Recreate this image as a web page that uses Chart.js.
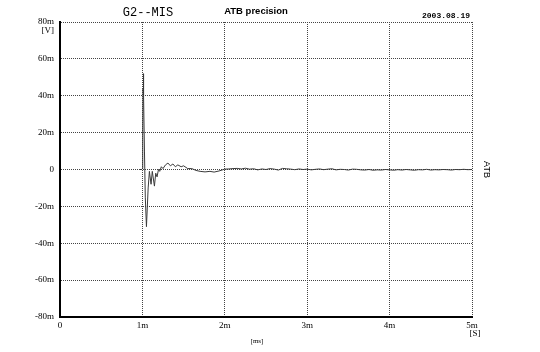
<!DOCTYPE html>
<html>
<head>
<meta charset="utf-8">
<script src="https://cdn.jsdelivr.net/npm/chart.js@4.4.0/dist/chart.umd.min.js"></script>
<style>
html,body{margin:0;padding:0;background:#fff;}
#wrap{width:540px;height:352px;position:relative;}
</style>
</head>
<body>
<div id="wrap"><canvas id="c" width="540" height="352"></canvas></div>
<script>
// time in ms
const timeMs = [0.97,0.99,1.00,1.004,1.008,1.012,1.016,1.025,1.035,1.049,1.07,1.085,1.105,1.12,1.146,1.162,1.178,1.195,1.21,1.23,1.25,1.28,1.31,1.34,1.37,1.40,1.43,1.47,1.50,1.55,1.60,1.65,1.70,1.76,1.82,1.87,1.93,2.00,
2.05,2.10,2.15,2.20,2.25,2.30,2.35,2.40,2.45,2.50,2.55,2.60,2.65,2.70,2.75,2.80,2.85,2.90,2.95,3.00,3.05,3.10,3.15,3.20,3.25,3.30,3.35,3.40,3.45,3.50,3.55,3.60,3.65,3.70,3.75,3.80,3.85,3.90,3.95,4.00,4.05,4.10,4.15,4.20,4.25,4.30,4.35,4.40,4.45,4.50,4.55,4.60,4.65,4.70,4.75,4.80,4.85,4.90,4.95,5.00];
// voltage in mV
const voltMv = [0,0,0.5,20,44,52,40,10,-15,-31,-10,-1,-8,-1,-9,-2,-4,0,-1,1.5,0.5,2.5,3.5,2,3,1.5,2.5,1.5,2,0.5,0.5,-0.5,-1,-1.3,-1,-1.4,-0.8,0.2,
0.3,0.5,0.6,0.3,0.7,0.2,0.4,-0.2,0.3,0,0.5,0.2,-0.3,0.6,0.4,0.2,-0.1,0.3,0,0.2,-0.2,0.1,0.3,-0.1,0.2,0.4,-0.2,0.1,0,-0.3,0.2,0.1,-0.2,-0.3,0,-0.4,-0.2,-0.3,0,-0.2,-0.4,-0.1,-0.3,0,-0.2,-0.4,-0.1,-0.2,0.1,-0.3,-0.1,-0.2,0,-0.1,-0.3,0,-0.1,0.1,-0.1,0];
const yTicks = [-80,-60,-40,-20,0,20,40,60,80];
const xTicks = [0,1,2,3,4,5];

const serif = '"Liberation Serif", "DejaVu Serif", serif';

const textPlugin = {
  id:'texts',
  afterDraw(chart){
    const ctx = chart.ctx, a = chart.chartArea;
    ctx.save();
    ctx.fillStyle = '#000';
    ctx.font = '12px "Liberation Mono", monospace';
    ctx.textAlign = 'center'; ctx.textBaseline = 'middle';
    ctx.fillText('G2--MIS', 148, 13);
    ctx.font = 'bold 9.5px "Liberation Sans", Arial, sans-serif';
    ctx.fillText('ATB precision', 256, 11);
    ctx.font = 'bold 8px "Liberation Mono", monospace';
    ctx.textAlign = 'right';
    ctx.fillText('2003.08.19', a.right - 2, 16);
    ctx.font = '9px ' + serif;
    ctx.textAlign = 'right';
    ctx.fillText('[V]', a.left - 6, a.top + 9);
    ctx.textAlign = 'center';
    ctx.fillText('[S]', a.right + 3, a.bottom + 17);
    ctx.font = '7px ' + serif;
    ctx.fillText('[ms]', 257, a.bottom + 24);
    ctx.font = '9px "Liberation Sans", Arial, sans-serif';
    ctx.translate(a.right + 14, chart.scales.y.getPixelForValue(0));
    ctx.rotate(Math.PI/2);
    ctx.fillText('ATB', 0, 0);
    ctx.restore();
  }
};

new Chart(document.getElementById('c'), {
  type:'line',
  data:{
    datasets:[{
      data: timeMs.map((t,i)=>({x:t,y:voltMv[i]})),
      borderColor:'#3a3a3a',
      borderWidth:1,
      pointRadius:0,
      tension:0,
      fill:false
    }]
  },
  options:{
    responsive:false,
    animation:false,
    layout:{padding:{top:22,right:68,left:0,bottom:0}},
    plugins:{legend:{display:false},tooltip:{enabled:false},title:{display:false}},
    scales:{
      x:{
        type:'linear', min:0, max:5,
        afterBuildTicks(s){ s.ticks = xTicks.map(v=>({value:v})); },
        afterFit(s){ s.height = 35; },
        ticks:{
          callback:v=> v===0 ? '0' : v+'m',
          font:{family:serif,size:9}, color:'#000', padding:3, maxRotation:0, autoSkip:false
        },
        grid:{color:'#444', lineWidth:1, drawTicks:false},
        border:{display:true, color:'#000', width:2, dash:[1,1]}
      },
      y:{
        type:'linear', min:-80, max:80,
        afterBuildTicks(s){ s.ticks = yTicks.map(v=>({value:v})); },
        afterFit(s){ s.width = 60; },
        ticks:{
          callback:v=> v===0 ? '0' : v+'m',
          font:{family:serif,size:9}, color:'#000', padding:6, autoSkip:false
        },
        grid:{color:'#444', lineWidth:1, drawTicks:false},
        border:{display:true, color:'#000', width:2, dash:[1,1]}
      }
    }
  },
  plugins:[textPlugin]
});
</script>
</body>
</html>
